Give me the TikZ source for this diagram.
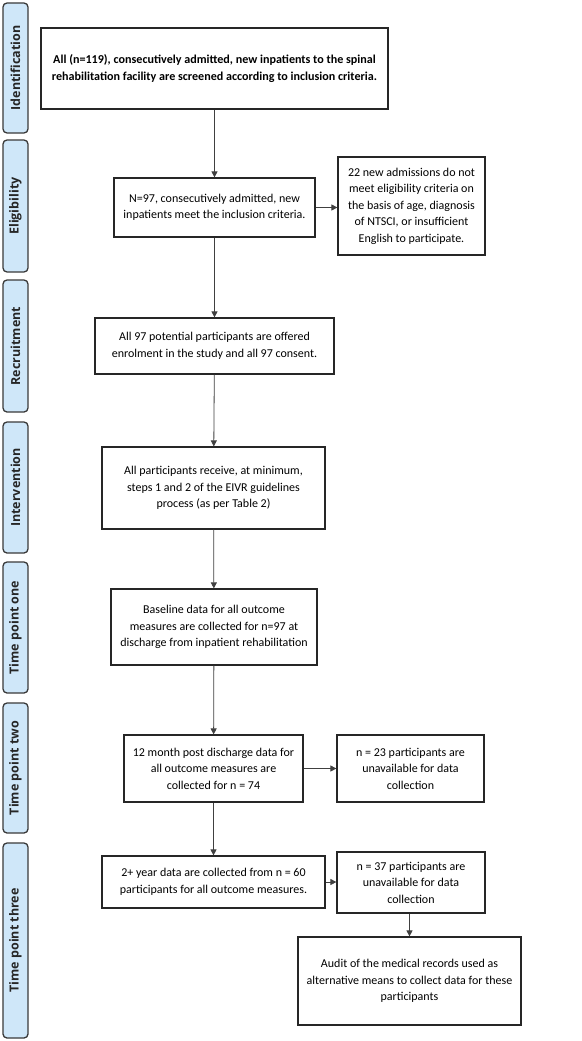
\documentclass[tikz,border=0pt]{standalone}
\usepackage{fontspec}
\setmainfont{Carlito}
\newfontfamily\lanefont{Open Sans}
\usetikzlibrary{arrows.meta}
\definecolor{lanefill}{HTML}{CFE7F9}
\definecolor{laneline}{HTML}{3A3A3A}
\tikzset{
  lane/.style={draw=laneline, line width=1.3pt, fill=lanefill, rounded corners=4pt},
  lanelabel/.style={rotate=90, font=\lanefont\bfseries\fontsize{12.5}{14}\selectfont, text=black!85},
  box/.style={draw=black!85, line width=1.2pt, align=center, font=\fontsize{12}{16.5}\selectfont, inner sep=0pt},
  conn/.style={draw=black!75, line width=0.8pt, -{Triangle[length=6pt,width=6pt]}},
}
\begin{document}
\begin{tikzpicture}[x=1pt,y=-1pt]
\useasboundingbox (0,0) rectangle (581,1041);
\fill[white] (0,0) rectangle (581,1041);
% lanes
\foreach \ya/\yb/\nm/\txt in {3/133/l1/Identification, 140/272/l2/Eligibility, 280/412/l3/Recruitment, 422/553/l4/Intervention, 562/693/l5/Time point one, 703/833/l6/Time point two, 843/1038/l7/Time point three}{
  \draw[lane] (3,\ya) rectangle (28,\yb);
  \node[lanelabel] (\nm) at (15.5,{(\ya+\yb)/2}) {\txt};
}
% boxes
\node[box, minimum width=347pt, minimum height=81pt, font=\bfseries\fontsize{12.1}{16.5}\selectfont] (b1) at (214.5,68.5)
 {All (n=119), consecutively admitted, new inpatients to the spinal\\rehabilitation facility are screened according to inclusion criteria.};
\node[box, minimum width=201pt, minimum height=59pt] (b2) at (214.5,207.5)
 {N=97, consecutively admitted, new\\inpatients meet the inclusion criteria.};
\node[box, minimum width=147pt, minimum height=98pt] (s2) at (411.5,206)
 {22 new admissions do not\\meet eligibility criteria on\\the basis of age, diagnosis\\of NTSCI, or insufficient\\English to participate.};
\node[box, minimum width=239pt, minimum height=56pt] (b3) at (214.5,346)
 {All 97 potential participants are offered\\enrolment in the study and all 97 consent.};
\node[box, minimum width=223pt, minimum height=82pt] (b4) at (213.5,488)
 {All participants receive, at minimum,\\steps 1 and 2 of the EIVR guidelines\\process (as per Table 2)};
\node[box, minimum width=206pt, minimum height=76pt] (b5) at (214,627)
 {Baseline data for all outcome\\measures are collected for n=97 at\\discharge from inpatient rehabilitation};
\node[box, minimum width=179pt, minimum height=67pt] (b6) at (213.5,768.5)
 {12 month post discharge data for\\all outcome measures are\\collected for n = 74};
\node[box, minimum width=147pt, minimum height=67pt] (s6) at (410.5,768.5)
 {n = 23 participants are\\unavailable for data\\collection};
\node[box, minimum width=223pt, minimum height=52pt] (b7) at (213.5,882)
 {2+ year data are collected from n = 60\\participants for all outcome measures.};
\node[box, minimum width=148pt, minimum height=61pt] (s7) at (411,882.5)
 {n = 37 participants are\\unavailable for data\\collection};
\node[box, minimum width=223pt, minimum height=88pt] (a7) at (409.5,981)
 {Audit of the medical records used as\\alternative means to collect data for these\\participants};
% connectors
\draw[conn] (b1) -- (b2);
\draw[conn] (b2) -- (b3);
\draw[conn] (b3) -- (b4);
\draw[conn] (b4) -- (b5);
\draw[conn] (b5) -- (b6);
\draw[conn] (b6) -- (b7);
\draw[conn] (b2.east) -- (b2.east -| s2.west);
\draw[conn] (b6) -- (s6);
\draw[conn] (b7.east) -- (b7.east -| s7.west);
\draw[conn] (s7.south -| a7.north) -- (a7.north);
\end{tikzpicture}
\end{document}
